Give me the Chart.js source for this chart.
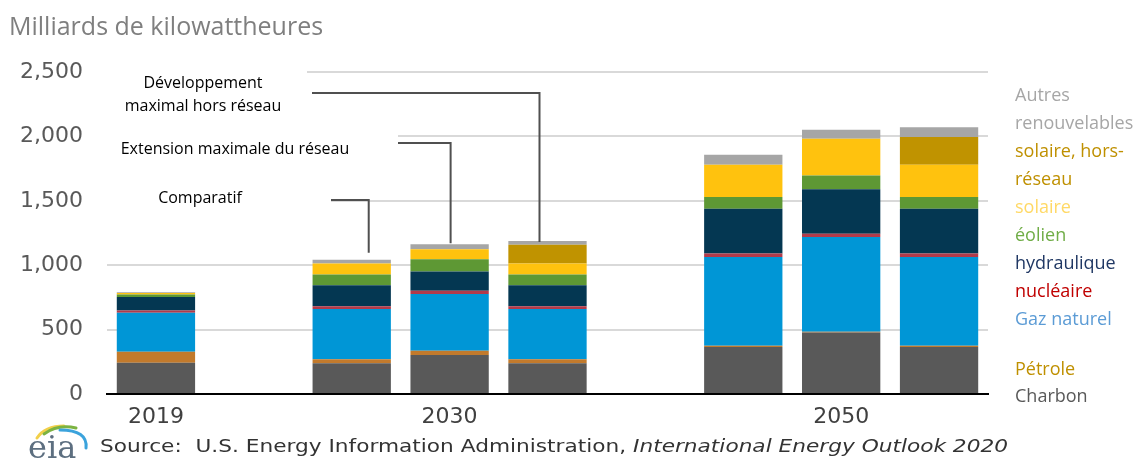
<!DOCTYPE html>
<html lang="fr">
<head>
<meta charset="utf-8">
<title>Production d'électricité</title>
<script src="https://cdn.jsdelivr.net/npm/chart.js@4.4.1/dist/chart.umd.min.js"></script>
<style>
  html, body { margin: 0; padding: 0; background: #fff; }
  canvas { display: block; }
</style>
</head>
<body>
<canvas id="chart" width="1139" height="461"></canvas>
<script>
// Slots: 2019, gap, three 2030 cases, gap, three 2050 cases
const slots = ['2019', '', '', '2030', '', '', '', '2050', ''];
const yTicks = [0, 500, 1000, 1500, 2000, 2500];

// Milliards de kWh par source
const charbon    = [243, null, 238, 302, 238, null, 364, 478, 364];
const petrole    = [85,  null, 31,  34,  31,  null, 10,  5,   10];
const gaz        = [302, null, 390, 440, 390, null, 690, 736, 690];
const nucleaire  = [19,  null, 23,  25,  23,  null, 26,  26,  26];
const hydro      = [105, null, 163, 150, 163, null, 349, 344, 349];
const eolien     = [19,  null, 82,  96,  82,  null, 90,  108, 90];
const solaire    = [12,  null, 86,  77,  86,  null, 251, 284, 251];
const horsReseau = [0,   null, 0,   0,   145, null, 0,   0,   215];
const autres     = [5,   null, 30,  39,  30,  null, 77,  70,  77];

// stacking order, bottom to top
const series = [
  { label: 'Charbon', data: charbon, color: '#595959' },
  { label: 'Pétrole', data: petrole, color: '#c27a2c' },
  { label: 'Gaz naturel', data: gaz, color: '#0096d6' },
  { label: 'nucléaire', data: nucleaire, color: '#b23a4a' },
  { label: 'hydraulique', data: hydro, color: '#043752' },
  { label: 'éolien', data: eolien, color: '#5e9834' },
  { label: 'solaire', data: solaire, color: '#ffc20e' },
  { label: 'solaire, hors-réseau', data: horsReseau, color: '#c09300' },
  { label: 'Autres renouvelables', data: autres, color: '#a6a6a6' }
];

// legend lines on the right: [text, colour, y]
const legendLines = [
  ['Autres', '#a6a6a6', 96],
  ['renouvelables', '#a6a6a6', 124],
  ['solaire, hors-', '#bf9000', 152],
  ['réseau', '#bf9000', 180],
  ['solaire', '#ffd966', 208],
  ['éolien', '#70ad47', 236],
  ['hydraulique', '#203864', 264],
  ['nucléaire', '#c00000', 292],
  ['Gaz naturel', '#5b9bd5', 320],
  ['Pétrole', '#bf9000', 370],
  ['Charbon', '#595959', 397]
];

// scenario callouts: text lines, box, elbow line to a bar
const callouts = [
  { lines: [['Développement', 203, 83], ['maximal hors réseau', 203, 106]],
    box: [100, 62, 207, 56], bar: 4, dx: -8, elbowY: 93, fromX: 312, gap: -1 },
  { lines: [['Extension maximale du réseau', 235, 149]],
    box: [100, 126, 298, 42], bar: 3, dx: 1, elbowY: 143, fromX: 398, gap: 1 },
  { lines: [['Comparatif', 200, 198]],
    box: [100, 180, 231, 40], bar: 2, dx: 17, elbowY: 200, fromX: 331, gap: 7 }
];

const decorations = {
  id: 'decorations',
  afterDraw(chart) {
    const ctx = chart.ctx;
    const xs = chart.scales.x, ys = chart.scales.y;
    ctx.save();

    // title
    ctx.fillStyle = '#7f7f7f';
    ctx.font = '25px "Open Sans"';
    ctx.textBaseline = 'middle';
    ctx.textAlign = 'left';
    ctx.fillText('Milliards de kilowattheures', 9, 28);

    // callouts
    callouts.forEach(c => {
      ctx.fillStyle = '#fff';
      ctx.fillRect(c.box[0], c.box[1], c.box[2], c.box[3]);
      ctx.fillStyle = '#000';
      ctx.font = '16px "Open Sans"';
      ctx.textAlign = 'center';
      c.lines.forEach(l => ctx.fillText(l[0], l[1], l[2]));
      const total = series.reduce((s, d) => s + (d.data[c.bar] || 0), 0);
      const bx = xs.getPixelForValue(c.bar) + c.dx;
      const by = ys.getPixelForValue(total) - c.gap;
      ctx.strokeStyle = '#505050';
      ctx.lineWidth = 2;
      ctx.beginPath();
      ctx.moveTo(c.fromX, c.elbowY);
      ctx.lineTo(bx, c.elbowY);
      ctx.lineTo(bx, by);
      ctx.stroke();
    });

    // legend
    ctx.textAlign = 'left';
    ctx.font = '18px "Open Sans"';
    legendLines.forEach(([t, col, y]) => {
      ctx.fillStyle = col;
      ctx.fillText(t, 1015, y);
    });

    // eia logo
    ctx.lineCap = 'round';
    ctx.lineWidth = 3;
    ctx.strokeStyle = '#f2d04a';
    ctx.beginPath(); ctx.moveTo(37, 438); ctx.quadraticCurveTo(45, 426, 64, 426); ctx.stroke();
    ctx.strokeStyle = '#7cb342';
    ctx.beginPath(); ctx.moveTo(44, 434); ctx.quadraticCurveTo(58, 424, 76, 428); ctx.stroke();
    ctx.strokeStyle = '#3ba3dc';
    ctx.beginPath(); ctx.moveTo(60, 430); ctx.quadraticCurveTo(88, 430, 86, 448); ctx.stroke();
    ctx.fillStyle = '#5d6f80';
    ctx.font = '32px "DejaVu Serif"';
    ctx.textBaseline = 'alphabetic';
    ctx.fillText('eia', 28, 458);

    // source line, stretched to its width
    const plain = 'Source:  U.S. Energy Information Administration, ';
    const ital = 'International Energy Outlook 2020';
    ctx.fillStyle = '#333';
    ctx.textBaseline = 'middle';
    ctx.font = '18px "DejaVu Sans"';
    const w1 = ctx.measureText(plain).width;
    ctx.font = 'italic 18px "DejaVu Sans"';
    const w2 = ctx.measureText(ital).width;
    const k = 908 / (w1 + w2);
    ctx.translate(100, 447);
    ctx.scale(k, 1);
    ctx.font = '18px "DejaVu Sans"';
    ctx.fillText(plain, 0, 0);
    ctx.font = 'italic 18px "DejaVu Sans"';
    ctx.fillText(ital, w1, 0);
    ctx.restore();
  }
};

new Chart(document.getElementById('chart'), {
  type: 'bar',
  data: {
    labels: slots,
    datasets: series.map(s => ({
      label: s.label,
      data: s.data,
      backgroundColor: s.color,
      borderWidth: 0,
      barPercentage: 0.8,
      categoryPercentage: 1
    }))
  },
  options: {
    responsive: false,
    animation: false,
    devicePixelRatio: 1,
    layout: { padding: { top: 72, right: 151, left: 0, bottom: 0 } },
    plugins: { legend: { display: false }, tooltip: { enabled: false } },
    scales: {
      x: {
        stacked: true,
        grid: { display: false, drawTicks: false },
        border: { display: true, color: '#000', width: 2 },
        ticks: { color: '#404040', font: { family: 'DejaVu Sans', size: 22 }, padding: 10, autoSkip: false, maxRotation: 0 },
        afterFit(s) { s.height = 67; }
      },
      y: {
        stacked: true,
        min: 0,
        max: 2500,
        afterBuildTicks(s) { s.ticks = yTicks.map(v => ({ value: v })); },
        ticks: {
          color: '#595959',
          font: { family: 'DejaVu Sans', size: 22 },
          padding: 24,
          callback: v => v.toLocaleString('en-US')
        },
        grid: { color: '#d9d9d9', lineWidth: 2, drawTicks: false },
        border: { display: false },
        afterFit(s) { s.width = 107; }
      }
    }
  },
  plugins: [decorations]
});
</script>
</body>
</html>
